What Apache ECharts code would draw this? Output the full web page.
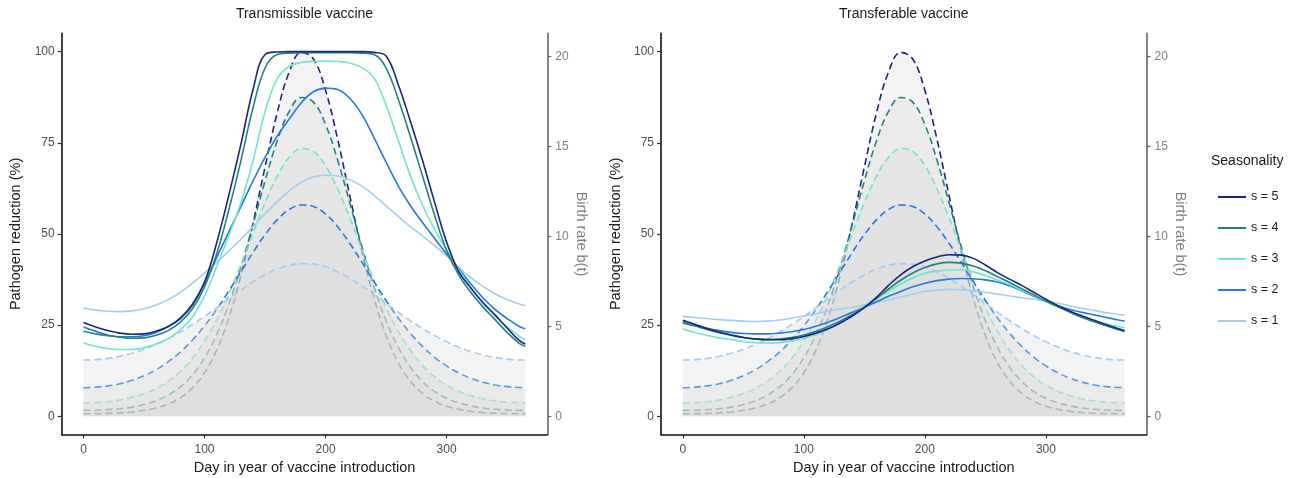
<!DOCTYPE html>
<html>
<head>
<meta charset="utf-8">
<script src="https://cdn.jsdelivr.net/npm/echarts@6.0.0/dist/echarts.min.js"></script>
<style>
  html, body { margin: 0; padding: 0; background: #fff; }
  #main { width: 1300px; height: 478px; }
</style>
</head>
<body>
<div id="main"></div>
<script>
// day of year at which values were read
var days = [0,10,20,30,40,50,60,70,80,90,100,110,120,130,140,150,160,170,180,190,200,210,220,230,240,250,260,270,280,290,300,310,320,330,340,350,360,365];

// birth rate b(t), same in both panels
var birth1 = [3.13,3.15,3.22,3.34,3.50,3.72,3.99,4.31,4.68,5.10,5.55,6.04,6.53,7.02,7.48,7.87,8.19,8.40,8.49,8.46,8.31,8.04,7.68,7.25,6.78,6.29,5.79,5.32,4.88,4.49,4.14,3.85,3.60,3.41,3.27,3.18,3.13,3.13];
var birth2 = [1.59,1.62,1.69,1.81,2.00,2.25,2.59,3.03,3.57,4.24,5.03,5.94,6.96,8.03,9.11,10.10,10.92,11.50,11.75,11.67,11.25,10.54,9.62,8.57,7.49,6.44,5.47,4.62,3.89,3.28,2.80,2.41,2.12,1.90,1.74,1.65,1.60,1.59];
var birth3 = [0.74,0.76,0.81,0.90,1.05,1.25,1.54,1.95,2.49,3.22,4.17,5.35,6.79,8.42,10.16,11.87,13.34,14.41,14.89,14.73,13.94,12.64,11.03,9.28,7.58,6.04,4.73,3.67,2.83,2.20,1.73,1.39,1.14,0.97,0.85,0.78,0.75,0.74];
var birth4 = [0.33,0.34,0.37,0.42,0.51,0.65,0.86,1.18,1.64,2.30,3.25,4.53,6.22,8.28,10.65,13.09,15.31,16.96,17.73,17.47,16.23,14.25,11.88,9.44,7.21,5.32,3.84,2.74,1.94,1.38,1.00,0.75,0.58,0.46,0.39,0.35,0.33,0.33];
var birth5 = [0.14,0.14,0.16,0.19,0.24,0.33,0.46,0.68,1.03,1.58,2.42,3.68,5.46,7.82,10.71,13.86,16.86,19.15,20.24,19.87,18.13,15.41,12.27,9.20,6.57,4.50,2.99,1.96,1.27,0.84,0.56,0.39,0.28,0.21,0.17,0.15,0.14,0.14];

// pathogen reduction (%), transmissible vaccine
var transmissible1 = [29.7,29.1,28.8,28.7,28.9,29.5,30.5,32,34,36.5,39.3,42.2,45.3,48.5,52,55.5,58.8,61.8,64.2,65.6,66.1,65.9,64.9,63.1,60.6,57.7,54.8,52,49.5,46.8,44,40.8,38,35.6,33.6,32,30.8,30.3];
var transmissible2 = [23.3,22.6,22.1,21.8,21.8,22.1,23,24.6,27,30.8,36.5,43.5,50.5,57.5,64.5,71,76.8,81.5,86,89,90,89.6,87.2,82.8,76.4,69.7,63.2,57.8,53.2,48.8,44.5,40.5,36.3,32.5,29.3,26.8,24.6,24];
var transmissible3 = [20.1,19.2,18.6,18.3,18.3,18.8,19.8,21.3,23.7,27.2,33,41,49.5,58.5,70,83.5,92.5,96,97,97.3,97.4,97.3,96.9,95.6,92.8,85.3,75.7,66,58,51.3,45.5,40.3,35.3,31,27.5,24.5,22,21];
var transmissible4 = [24.5,23.3,22.3,21.7,21.4,21.5,22.2,23.5,25.8,29.5,35.5,44.5,56.5,70,84.5,95.5,99.2,99.6,99.7,99.7,99.7,99.7,99.7,99.6,99.2,95.5,87,76.8,66,55.2,45.5,38.8,34,30,26.5,23,20,19.2];
var transmissible5 = [25.7,24.5,23.5,22.8,22.5,22.6,23.3,24.6,26.8,30.5,36.8,47.5,60.5,74.5,89.5,99.2,99.9,100,100,100,100,100,100,100,99.8,98.8,91,81,70.3,58.8,47.8,39.7,35.2,31.2,27.8,24.2,20.8,19.8];

// pathogen reduction (%), transferable vaccine
var transferable1 = [27.4,27.1,26.8,26.5,26.3,26.1,26,26.1,26.4,26.9,27.5,28.1,28.8,29.4,29.9,30.5,31.2,31.9,32.7,33.5,34.2,34.6,34.8,34.7,34.4,34,33.5,33,32.5,32.1,31.6,31,30.3,29.6,29,28.4,27.9,27.7];
var transferable2 = [25.6,24.8,24.1,23.5,23,22.7,22.6,22.6,22.8,23.2,23.8,24.7,25.8,27.1,28.5,29.9,31.4,32.9,34.2,35.5,36.5,37.2,37.6,37.8,37.7,37.4,36.8,35.8,34.4,32.9,31.5,30.3,29.3,28.5,27.8,27.1,26.4,26.1];
var transferable3 = [23.9,23,22.2,21.5,21,20.5,20.2,20.1,20.2,20.6,21.3,22.4,23.8,25.6,27.7,30,32.3,34.3,36.2,37.9,39.2,39.8,40.1,40.2,39.6,38.6,37.4,36.1,34.6,33.1,31.5,30,28.6,27.3,26.2,25.3,24.6,24.3];
var transferable4 = [25.8,24.8,23.8,22.9,22.2,21.6,21.2,21.1,21.2,21.6,22.3,23.3,24.6,26.1,27.9,29.9,32.3,34.9,37.3,39.3,40.8,41.8,42.2,42,41.2,39.9,38.3,36.7,35,33.3,31.6,30,28.5,27.1,25.9,24.8,23.7,23.2];
var transferable5 = [26.3,25.2,24.1,23.1,22.3,21.6,21.2,21,21,21.3,21.9,22.8,24,25.6,27.5,29.8,32.6,35.9,38.8,41,42.6,43.7,44.3,44.2,43.3,41.5,39.4,37.6,35.9,34,32.1,30.3,28.8,27.5,26.3,25.1,24,23.5];

var seasons = [5, 4, 3, 2, 1];
var seasonLabels = ['s = 5', 's = 4', 's = 3', 's = 2', 's = 1'];
var seasonColors = ['#1b2482', '#1f837d', '#6fe6c6', '#2479df', '#a2cdf0'];
var panelTitles = ['Transmissible vaccine', 'Transferable vaccine'];
var reductionTicks = [0, 25, 50, 75, 100];
var birthTicks = [0, 5, 10, 15, 20];
var dayTicks = [0, 100, 200, 300];

var birth = { 1: birth1, 2: birth2, 3: birth3, 4: birth4, 5: birth5 };
var reduction = [
    { 1: transmissible1, 2: transmissible2, 3: transmissible3, 4: transmissible4, 5: transmissible5 },
    { 1: transferable1, 2: transferable2, 3: transferable3, 4: transferable4, 5: transferable5 }
];

function pairs(ys) {
    return days.map(function (d, i) { return [d, ys[i]]; });
}

var font = 'Liberation Sans, Arial, Helvetica, sans-serif';
var gridLefts = [61.7, 661];

var grids = [], xAxes = [], yAxes = [], series = [], graphics = [];

gridLefts.forEach(function (left, p) {
    grids.push({ left: left, top: 33.4, width: 485.6, height: 401.1, outerBoundsMode: 'none', containLabel: false });

    xAxes.push({
        type: 'value', gridIndex: p, min: -18, max: 383.2,
        name: 'Day in year of vaccine introduction',
        nameLocation: 'middle', nameGap: 25,
        nameTextStyle: { fontSize: 14.5, color: '#1a1a1a' },
        axisLine: { onZero: false, lineStyle: { color: '#111', width: 1.6 } },
        axisTick: { length: 4, lineStyle: { color: '#333', width: 1.2 }, customValues: dayTicks },
        axisLabel: { customValues: dayTicks, fontSize: 12, color: '#4d4d4d', margin: 9 },
        splitLine: { show: false }
    });

    yAxes.push({
        type: 'value', gridIndex: p, position: 'left', min: -5, max: 105,
        name: 'Pathogen reduction (%)',
        nameLocation: 'middle', nameGap: 38,
        nameTextStyle: { fontSize: 14.5, color: '#1a1a1a' },
        axisLine: { show: true, onZero: false, lineStyle: { color: '#111', width: 1.6 } },
        axisTick: { show: true, length: 4, lineStyle: { color: '#333', width: 1.2 }, customValues: reductionTicks },
        axisLabel: { customValues: reductionTicks, fontSize: 12, color: '#4d4d4d', margin: 7 },
        splitLine: { show: false }
    });

    yAxes.push({
        type: 'value', gridIndex: p, position: 'right', min: -1.014, max: 21.294,
        name: 'Birth rate b(t)',
        nameLocation: 'middle', nameGap: 26, nameRotate: -90,
        nameTextStyle: { fontSize: 14.5, color: '#808080' },
        axisLine: { show: true, onZero: false, lineStyle: { color: '#666', width: 1.6 } },
        axisTick: { show: true, length: 4, lineStyle: { color: '#666', width: 1.2 }, customValues: birthTicks },
        axisLabel: { customValues: birthTicks, fontSize: 12, color: '#808080', margin: 8 },
        splitLine: { show: false }
    });

    // birth rate curves, largest seasonality first (lowest z) so later areas fade the lower dashes
    seasons.forEach(function (s, i) {
        series.push({
            name: 'b(t) ' + seasonLabels[i],
            type: 'line', xAxisIndex: p, yAxisIndex: p * 2 + 1,
            data: pairs(birth[s]),
            smooth: 0.4, showSymbol: false, z: 2 + i, silent: true,
            lineStyle: { color: seasonColors[i], width: 1.6, type: [7, 4] },
            itemStyle: { color: seasonColors[i] },
            areaStyle: { color: 'rgba(218,218,218,0.45)' }
        });
    });

    // pathogen reduction curves
    seasons.slice().reverse().forEach(function (s) {
        var i = seasons.indexOf(s);
        series.push({
            name: seasonLabels[i],
            type: 'line', xAxisIndex: p, yAxisIndex: p * 2,
            data: pairs(reduction[p][s]),
            smooth: 0.4, showSymbol: false, z: 10,
            lineStyle: { color: seasonColors[i], width: 1.6 },
            itemStyle: { color: seasonColors[i] }
        });
    });

    graphics.push({
        type: 'text', x: left + 242.8, y: 14,
        style: { text: panelTitles[p], fontSize: 14, fontFamily: font, fill: '#1a1a1a',
                 textAlign: 'center', textVerticalAlign: 'middle' }
    });
});

graphics.push({
    type: 'text', x: 1211, y: 161,
    style: { text: 'Seasonality', fontSize: 14, fontFamily: font, fill: '#1a1a1a',
             textAlign: 'left', textVerticalAlign: 'middle' }
});

var chartDom = document.getElementById('main');
var myChart = echarts.init(chartDom, null, { renderer: 'canvas' });
var option = {
    animation: false,
    textStyle: { fontFamily: font },
    grid: grids,
    xAxis: xAxes,
    yAxis: yAxes,
    legend: {
        data: seasonLabels,
        orient: 'vertical', left: 1213, top: 184,
        icon: 'rect', itemWidth: 28, itemHeight: 2, itemGap: 15,
        textStyle: { fontSize: 12.5, color: '#1a1a1a', lineHeight: 16 }
    },
    graphic: graphics,
    series: series
};

option && myChart.setOption(option);
</script>
</body>
</html>
